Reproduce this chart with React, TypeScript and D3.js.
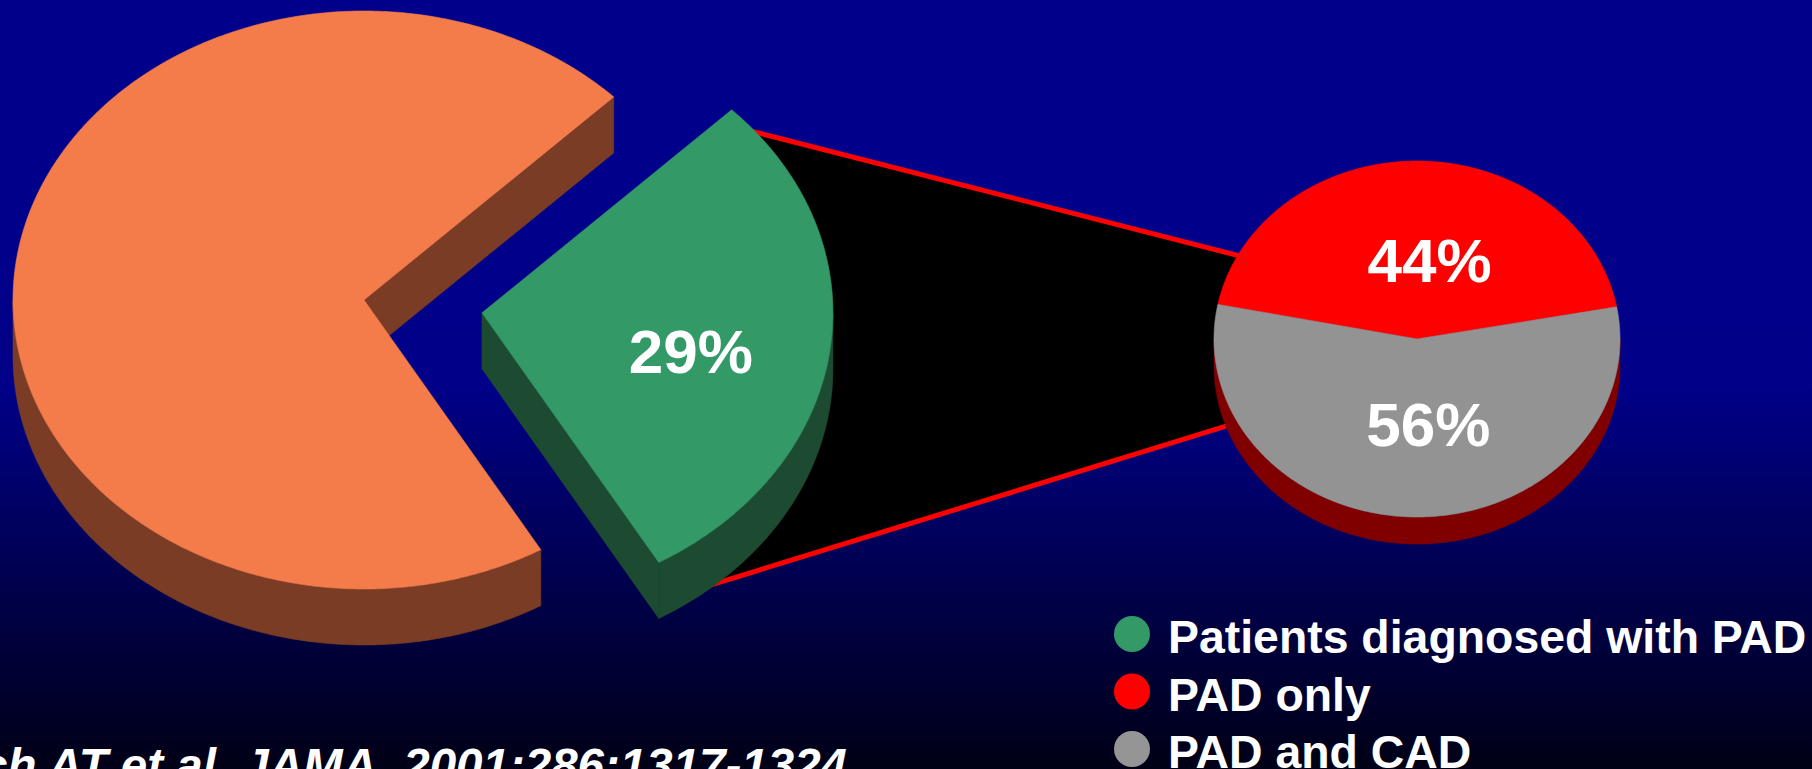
import React, { useEffect, useRef } from "react";
import * as d3 from "d3";

// ---------- data ----------
const mainCategories = ["Patients diagnosed with PAD", "Other patients"];
const mainValues = [29, 71];
const subCategories = ["PAD only", "PAD and CAD"];
const subValues = [44, 56];
const legendLabels = ["Patients diagnosed with PAD", "PAD only", "PAD and CAD"];
const citation = "Hirsch AT et al. JAMA. 2001;286:1317-1324";

// ---------- styles ----------
const W = 1812;
const H = 769;
const FONT = "'Liberation Sans', Arial, Helvetica, sans-serif";
const mainTop = ["#339966", "#F47C4A"];
const mainSide = ["#1C4B32", "#7B3C25"];
const subTop = ["#FF0000", "#939393"];
const subSide = "#800000";
const legendColors = ["#339966", "#FF0000", "#959595"];

const MAIN = { cx: 364, cy: 300, rx: 351, ry: 289, depth: 56, explode: 0.339, startDeg: 45.35 };
const SUB = { cx: 1417, cy: 339, rx: 203, ry: 178, depth: 27, startDeg: 281.2 };

type Geo = { rx: number; ry: number; depth: number };

function arcPts(cx: number, cy: number, g: Geo, a: number, b: number, dz: number): [number, number][] {
  const n = Math.max(2, Math.ceil(Math.abs(b - a) / 0.01));
  return d3.range(n + 1).map((i) => {
    const t = a + ((b - a) * i) / n;
    return [cx + g.rx * Math.cos(t), cy + g.ry * Math.sin(t) + dz] as [number, number];
  });
}

function walls(sel: any, cx: number, cy: number, g: Geo, t0: number, t1: number, color: string) {
  const line = d3.line();
  for (let k = -2; k <= 2; k++) {
    const lo = Math.max(t0, 2 * Math.PI * k);
    const hi = Math.min(t1, 2 * Math.PI * k + Math.PI);
    if (hi > lo) {
      const pts = arcPts(cx, cy, g, lo, hi, 0).concat(arcPts(cx, cy, g, lo, hi, g.depth).reverse());
      sel.append("path").attr("d", line(pts) + "Z").attr("fill", color).attr("stroke", color).attr("stroke-width", 0.6);
    }
  }
}

function faces(sel: any, cx: number, cy: number, g: Geo, t0: number, t1: number, color: string) {
  const line = d3.line();
  const list: number[] = [];
  if (Math.cos(t0) < 0) list.push(t0);
  if (Math.cos(t1) > 0) list.push(t1);
  list.forEach((t) => {
    const ex = cx + g.rx * Math.cos(t);
    const ey = cy + g.ry * Math.sin(t);
    const pts: [number, number][] = [
      [cx, cy],
      [ex, ey],
      [ex, ey + g.depth],
      [cx, cy + g.depth],
    ];
    sel.append("path").attr("d", line(pts) + "Z").attr("fill", color).attr("stroke", color).attr("stroke-width", 0.6);
  });
}

function topFace(sel: any, cx: number, cy: number, g: Geo, t0: number, t1: number, color: string) {
  const line = d3.line();
  const pts: [number, number][] = [[cx, cy] as [number, number]].concat(arcPts(cx, cy, g, t0, t1, 0));
  sel.append("path").attr("d", line(pts) + "Z").attr("fill", color).attr("stroke", color).attr("stroke-width", 0.6);
}

export default function App() {
  const ref = useRef<SVGSVGElement | null>(null);

  useEffect(() => {
    const svg = d3.select(ref.current);
    svg.selectAll("*").remove();

    // background gradient
    const defs = svg.append("defs");
    const grad = defs
      .append("linearGradient")
      .attr("id", "bg")
      .attr("x1", 0)
      .attr("y1", 0)
      .attr("x2", 0)
      .attr("y2", 1);
    grad.append("stop").attr("offset", 0).attr("stop-color", "#00008B");
    grad.append("stop").attr("offset", 0.5).attr("stop-color", "#000089");
    grad.append("stop").attr("offset", 1).attr("stop-color", "#000016");
    svg.append("rect").attr("width", W).attr("height", H).attr("fill", "url(#bg)");

    const toScreen = (a: number) => a - Math.PI / 2;

    const mainPie = d3
      .pie<number>()
      .sort(null)
      .startAngle((MAIN.startDeg * Math.PI) / 180)
      .endAngle((MAIN.startDeg * Math.PI) / 180 + 2 * Math.PI)(mainValues);

    const subPie = d3
      .pie<number>()
      .sort(null)
      .startAngle((SUB.startDeg * Math.PI) / 180)
      .endAngle((SUB.startDeg * Math.PI) / 180 + 2 * Math.PI)(subValues);

    // exploded slice center
    const pad = mainPie[0];
    const padT0 = toScreen(pad.startAngle);
    const padT1 = toScreen(pad.endAngle);
    const padMid = (padT0 + padT1) / 2;
    const gcx = MAIN.cx + MAIN.explode * MAIN.rx * Math.cos(padMid);
    const gcy = MAIN.cy + MAIN.explode * MAIN.ry * Math.sin(padMid);

    // ---- connector (pie-of-pie) ----
    const subTopPt = (t: number) => [SUB.cx + SUB.rx * Math.cos(t), SUB.cy + SUB.ry * Math.sin(t)];
    const ta = padT0 + (6 * Math.PI) / 180;
    const tb = padT1 - (12 * Math.PI) / 180;
    const A = [gcx + MAIN.rx * Math.cos(ta), gcy + MAIN.ry * Math.sin(ta)];
    const B = subTopPt((208 * Math.PI) / 180);
    const C = [gcx + MAIN.rx * Math.cos(tb), gcy + MAIN.ry * Math.sin(tb) + MAIN.depth];
    const D = subTopPt((152 * Math.PI) / 180);
    const extend = (p: number[], q: number[], d: number) => {
      const dx = q[0] - p[0];
      const dy = q[1] - p[1];
      const L = Math.hypot(dx, dy);
      return [
        [p[0] - (dx / L) * d, p[1] - (dy / L) * d],
        [q[0] + (dx / L) * d, q[1] + (dy / L) * d],
      ];
    };
    const [A2, B2] = extend(A, B, 14);
    const [C2, D2] = extend(C, D, 14);
    const conn = svg.append("g");
    conn
      .append("path")
      .attr("d", d3.line()([A2, B2, D2, C2] as [number, number][]) + "Z")
      .attr("fill", "#000000");
    conn
      .append("line")
      .attr("x1", A2[0]).attr("y1", A2[1]).attr("x2", B2[0]).attr("y2", B2[1])
      .attr("stroke", "#FF0000").attr("stroke-width", 5);
    conn
      .append("line")
      .attr("x1", C2[0]).attr("y1", C2[1]).attr("x2", D2[0]).attr("y2", D2[1])
      .attr("stroke", "#FF0000").attr("stroke-width", 5);

    // ---- main pie ----
    const mg = svg.append("g");
    mainPie.forEach((s, i) => {
      const t0 = toScreen(s.startAngle);
      const t1 = toScreen(s.endAngle);
      const cx = i === 0 ? gcx : MAIN.cx;
      const cy = i === 0 ? gcy : MAIN.cy;
      const g = mg.append("g").attr("class", "slice");
      faces(g, cx, cy, MAIN, t0, t1, mainSide[i]);
      walls(g, cx, cy, MAIN, t0, t1, mainSide[i]);
      topFace(g, cx, cy, MAIN, t0, t1, mainTop[i]);
    });

    // main label (PAD slice)
    svg
      .append("text")
      .attr("x", gcx + 0.6 * MAIN.rx * Math.cos(padMid))
      .attr("y", gcy + 0.59 * MAIN.ry * Math.sin(padMid) + MAIN.depth * 0.28)
      .attr("dy", "0.36em")
      .attr("text-anchor", "middle")
      .attr("font-family", FONT)
      .attr("font-weight", "bold")
      .attr("font-size", 62)
      .attr("fill", "#FFFFFF")
      .text(`${mainValues[0]}%`);

    // ---- sub pie ----
    const sg = svg.append("g");
    subPie.forEach((s) => {
      walls(sg, SUB.cx, SUB.cy, SUB, toScreen(s.startAngle), toScreen(s.endAngle), subSide);
    });
    subPie.forEach((s, i) => {
      topFace(sg, SUB.cx, SUB.cy, SUB, toScreen(s.startAngle), toScreen(s.endAngle), subTop[i]);
    });
    subPie.forEach((s, i) => {
      const m = toScreen((s.startAngle + s.endAngle) / 2);
      sg.append("text")
        .attr("x", SUB.cx + 0.46 * SUB.rx * Math.cos(m) + 12)
        .attr("y", SUB.cy + 0.46 * SUB.ry * Math.sin(m) + 3)
        .attr("dy", "0.36em")
        .attr("text-anchor", "middle")
        .attr("font-family", FONT)
        .attr("font-weight", "bold")
        .attr("font-size", 62)
        .attr("fill", "#FFFFFF")
        .text(`${subValues[i]}%`);
    });

    // ---- legend ----
    const lg = svg.append("g").attr("transform", "translate(1132,634)");
    legendLabels.forEach((lab, i) => {
      const row = lg.append("g").attr("transform", `translate(0,${i * 57.5})`);
      row.append("circle").attr("r", 18).attr("fill", legendColors[i]);
      row
        .append("text")
        .attr("x", 36)
        .attr("y", 19)
        .attr("font-family", FONT)
        .attr("font-weight", "bold")
        .attr("font-size", 46.4)
        .attr("fill", "#FFFFFF")
        .text(lab);
    });

    // ---- citation ----
    svg
      .append("text")
      .attr("x", 847)
      .attr("y", 782)
      .attr("text-anchor", "end")
      .attr("font-family", FONT)
      .attr("font-weight", "bold")
      .attr("font-style", "italic")
      .attr("font-size", 47.5)
      .attr("fill", "#FFFFFF")
      .text(citation);
  }, []);

  return (
    <svg
      ref={ref}
      width={W}
      height={H}
      style={{ position: "absolute", left: 0, top: 0, display: "block" }}
    />
  );
}
